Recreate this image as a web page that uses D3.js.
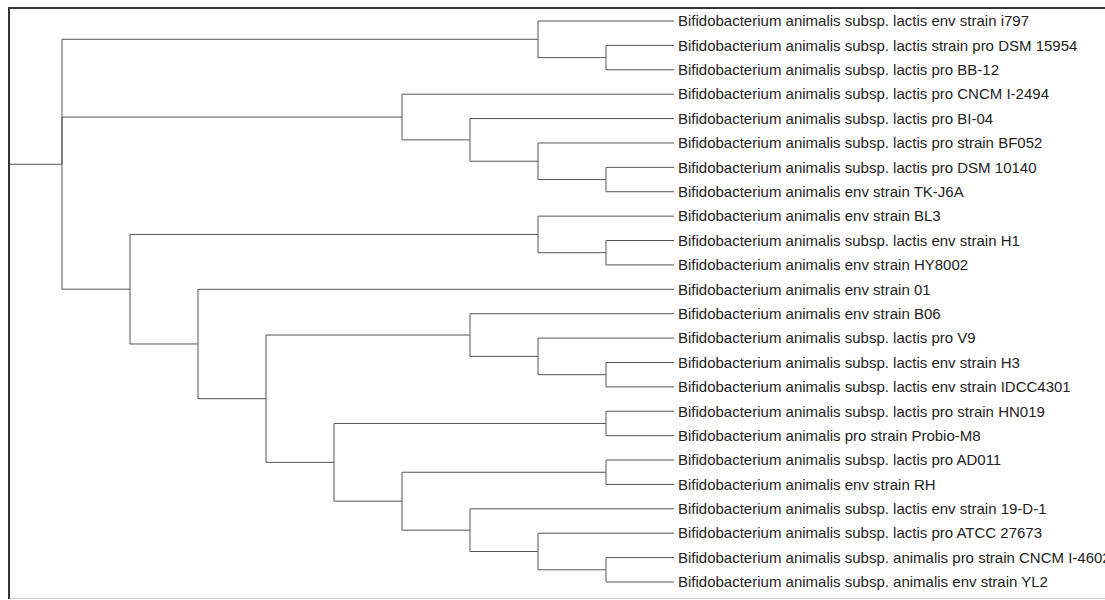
<!DOCTYPE html>
<html>
<head>
<meta charset="utf-8">
<script src="https://cdn.jsdelivr.net/npm/d3@7"></script>
<style>
  html, body { margin: 0; padding: 0; background: #fff; }
  svg { display: block; }
  .link { fill: none; stroke: #555; stroke-width: 1px; }
  .leaf-label { font-family: "Liberation Sans", Arial, sans-serif; font-size: 15px; fill: #222; }
</style>
</head>
<body>
<svg id="chart" width="1105" height="600"></svg>
<script>
// Strain names, in leaf order from top to bottom
const strains = [
  "Bifidobacterium animalis subsp. lactis env strain i797",
  "Bifidobacterium animalis subsp. lactis strain pro DSM 15954",
  "Bifidobacterium animalis subsp. lactis pro BB-12",
  "Bifidobacterium animalis subsp. lactis pro CNCM I-2494",
  "Bifidobacterium animalis subsp. lactis pro BI-04",
  "Bifidobacterium animalis subsp. lactis pro strain BF052",
  "Bifidobacterium animalis subsp. lactis pro DSM 10140",
  "Bifidobacterium animalis env strain TK-J6A",
  "Bifidobacterium animalis env strain BL3",
  "Bifidobacterium animalis subsp. lactis env strain H1",
  "Bifidobacterium animalis env strain HY8002",
  "Bifidobacterium animalis env strain 01",
  "Bifidobacterium animalis env strain B06",
  "Bifidobacterium animalis subsp. lactis pro V9",
  "Bifidobacterium animalis subsp. lactis env strain H3",
  "Bifidobacterium animalis subsp. lactis env strain IDCC4301",
  "Bifidobacterium animalis subsp. lactis pro strain HN019",
  "Bifidobacterium animalis pro strain Probio-M8",
  "Bifidobacterium animalis subsp. lactis pro AD011",
  "Bifidobacterium animalis env strain RH",
  "Bifidobacterium animalis subsp. lactis env strain 19-D-1",
  "Bifidobacterium animalis subsp. lactis pro ATCC 27673",
  "Bifidobacterium animalis subsp. animalis pro strain CNCM I-4602",
  "Bifidobacterium animalis subsp. animalis env strain YL2"
];

// Clade structure as nested arrays of strain indices
const cladeLactisA = [0, [1, 2]];
const cladeLactisB = [3, [4, [5, [6, 7]]]];
const cladeEnvBL3 = [8, [9, 10]];
const cladeV9 = [12, [13, [14, 15]]];
const cladeHN019 = [16, 17];
const cladeAnimalis = [[18, 19], [20, [21, [22, 23]]]];
const topology = [
  cladeLactisA,
  cladeLactisB,
  [cladeEnvBL3, [11, [cladeV9, [cladeHN019, cladeAnimalis]]]]
];

function toNode(t) {
  return Array.isArray(t)
    ? { children: t.map(toNode) }
    : { name: strains[t], leafIndex: t };
}

const root = d3.hierarchy(toNode(topology));

// Horizontal position by node height (leaves aligned on the right),
// vertical position by leaf order.
const xScale = d3.scaleLinear().domain([0, root.height + 1]).range([674, -6]);
const yScale = d3.scaleLinear().domain([0, strains.length - 1]).range([21, 582]);

root.eachAfter(d => {
  d.px = xScale(d.height);
  if (d.children) {
    d.py = (d.children[0].py + d.children[d.children.length - 1].py) / 2;
  } else {
    d.py = yScale(d.data.leafIndex);
  }
});

const svg = d3.select("#chart");

// frame
svg.append("line").attr("x1", 8).attr("x2", 1105).attr("y1", 8).attr("y2", 8)
  .attr("stroke", "#333").attr("stroke-width", 2);
svg.append("line").attr("x1", 9).attr("x2", 9).attr("y1", 7).attr("y2", 599)
  .attr("stroke", "#333").attr("stroke-width", 2);
svg.append("line").attr("x1", 10).attr("x2", 1105).attr("y1", 598.5).attr("y2", 598.5)
  .attr("stroke", "#ccc").attr("stroke-width", 1);

const g = svg.append("g");

// root stem
g.append("path")
  .attr("class", "link")
  .attr("d", `M10,${root.py}H${root.px}`);

// elbow links
g.selectAll("path.edge")
  .data(root.links())
  .join("path")
  .attr("class", "link edge")
  .attr("d", l => `M${l.source.px},${l.source.py}V${l.target.py}H${l.target.px}`);

// leaf labels
g.selectAll("text.leaf-label")
  .data(root.leaves())
  .join("text")
  .attr("class", "leaf-label")
  .attr("x", d => d.px + 4)
  .attr("y", d => d.py)
  .attr("dy", "0.35em")
  .text(d => d.data.name);
</script>
</body>
</html>
